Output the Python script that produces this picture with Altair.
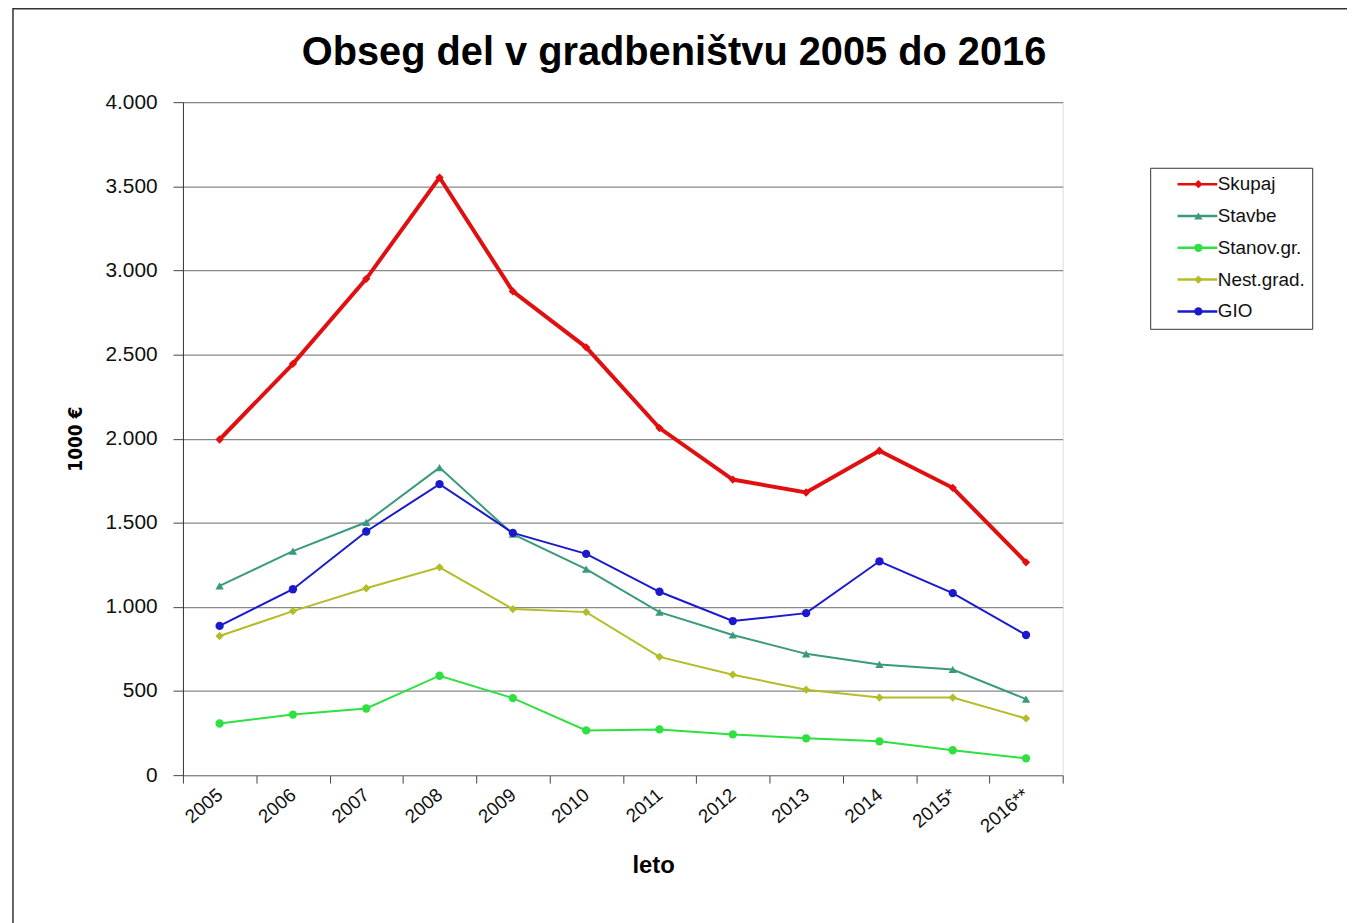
import altair as alt
import pandas as pd

leta = ["2005", "2006", "2007", "2008", "2009", "2010", "2011", "2012", "2013", "2014", "2015*", "2016**"]
serije = ["Skupaj", "Stavbe", "Stanov.gr.", "Nest.grad.", "GIO"]

skupaj = [1995, 2445, 2950, 3552, 2875, 2543, 2063, 1757, 1680, 1928, 1708, 1265]
stavbe = [1125, 1332, 1503, 1828, 1432, 1225, 969, 833, 721, 658, 628, 452]
stanov = [307, 360, 396, 591, 458, 266, 272, 242, 219, 201, 148, 100]
nest = [827, 975, 1111, 1235, 987, 969, 703, 597, 508, 461, 461, 337]
gio = [887, 1105, 1448, 1730, 1440, 1315, 1090, 916, 963, 1271, 1082, 833]

barve = ["#E01010", "#3A9A7E", "#2EE040", "#B4BC28", "#1A1ACC"]
oblike = ["diamond", "triangle-up", "circle", "diamond", "circle"]

vrednosti = [skupaj, stavbe, stanov, nest, gio]
rows = []
for s, vals in zip(serije, vrednosti):
    for leto, v in zip(leta, vals):
        rows.append({"Leto": leto, "Serija": s, "Oznaka": s, "Vrednost": v})
df = pd.DataFrame(rows)

FONT = "Liberation Sans"
NARROW = "Liberation Sans Narrow, DejaVu Sans Condensed, Liberation Sans"

x_enc = alt.X(
    "Leto:N",
    sort=leta,
    scale=alt.Scale(type="band", paddingInner=0, paddingOuter=0),
    axis=alt.Axis(
        title="leto",
        titleFont=FONT,
        titleFontSize=24,
        titleFontWeight="bold",
        titleColor="#000",
        titleX=473,
        titlePadding=18,
        labelFont=FONT,
        labelFontSize=19,
        labelColor="#111",
        labelAngle=-40,
        labelAlign="right",
        labelBaseline="middle",
        labelPadding=9,
        tickBand="extent",
        tickSize=8,
        tickColor="#444",
        domainColor="#888",
        grid=False,
    ),
)

y_enc = alt.Y(
    "Vrednost:Q",
    scale=alt.Scale(domain=[0, 4000], nice=False),
    axis=alt.Axis(
        title="1000 €",
        titleFont=NARROW,
        titleFontSize=19,
        titleFontWeight="bold",
        titleColor="#000",
        titlePadding=20,
        values=[0, 500, 1000, 1500, 2000, 2500, 3000, 3500, 4000],
        labelExpr="replace(format(datum.value, ','), ',', '.')",
        labelFont=FONT,
        labelFontSize=21,
        labelColor="#111",
        labelPadding=16,
        tickSize=10,
        tickColor="#444",
        domainColor="#333",
        gridColor="#888",
        gridWidth=1.2,
    ),
)

LEG_PAD = 7
LEG_ROW = 12
LEG_FONT = 19
LEG_X = 973
LEG_Y = 66

lines = alt.Chart(df).mark_line().encode(
    x=x_enc,
    y=y_enc,
    color=alt.Color(
        "Serija:N",
        sort=serije,
        scale=alt.Scale(domain=serije, range=barve),
        legend=alt.Legend(
            title=None,
            orient="none",
            legendX=LEG_X,
            legendY=LEG_Y,
            symbolType="M2.2,0H10.2",
            symbolSize=100,
            symbolStrokeWidth=2.5,
            labelFont=FONT,
            labelFontSize=LEG_FONT,
            labelColor="#111",
            labelOffset=42,
            rowPadding=LEG_ROW,
            padding=LEG_PAD,
            strokeColor="#333",
        ),
    ),
    strokeWidth=alt.condition(alt.datum.Serija == "Skupaj", alt.value(4), alt.value(2)),
    detail="Serija:N",
)

marker_legend = alt.Legend(
    title=None,
    orient="none",
    legendX=LEG_X + 32,
    legendY=LEG_Y,
    symbolSize=70,
    labelFont=FONT,
    labelFontSize=LEG_FONT,
    labelExpr="''",
    labelOffset=2,
    rowPadding=LEG_ROW,
    padding=LEG_PAD,
)

points = alt.Chart(df).mark_point(filled=True, opacity=1).encode(
    x=x_enc,
    y=y_enc,
    color=alt.Color(
        "Oznaka:N",
        sort=serije,
        scale=alt.Scale(domain=serije, range=barve),
        legend=marker_legend,
    ),
    shape=alt.Shape(
        "Oznaka:N",
        sort=serije,
        scale=alt.Scale(domain=serije, range=oblike),
        legend=marker_legend,
    ),
    size=alt.value(70),
)

frame = alt.Chart(alt.Data(values=[{"f": 1}])).mark_rect(
    fillOpacity=0, stroke="#333", strokeWidth=1.5
).encode(
    x=alt.value(-171), x2=alt.value(1300), y=alt.value(-94), y2=alt.value(900)
)

chart = alt.layer(frame, lines, points).resolve_scale(
    color="independent", shape="independent"
).properties(
    width=885,
    height=677,
    autosize=alt.AutoSizeParams(type="none"),
    padding={"left": 176, "top": 92, "right": 286, "bottom": 146},
    title=alt.TitleParams(
        "Obseg del v gradbeništvu 2005 do 2016",
        font=FONT,
        fontSize=40,
        fontWeight="bold",
        color="#000",
        anchor="middle",
        frame="group",
        baseline="alphabetic",
        dx=51.5,
        offset=-97,
    ),
).configure_view(
    stroke="#999", strokeWidth=1
).configure(background="white")

chart.save("out.html", embed_options={"renderer": "svg", "actions": False})
